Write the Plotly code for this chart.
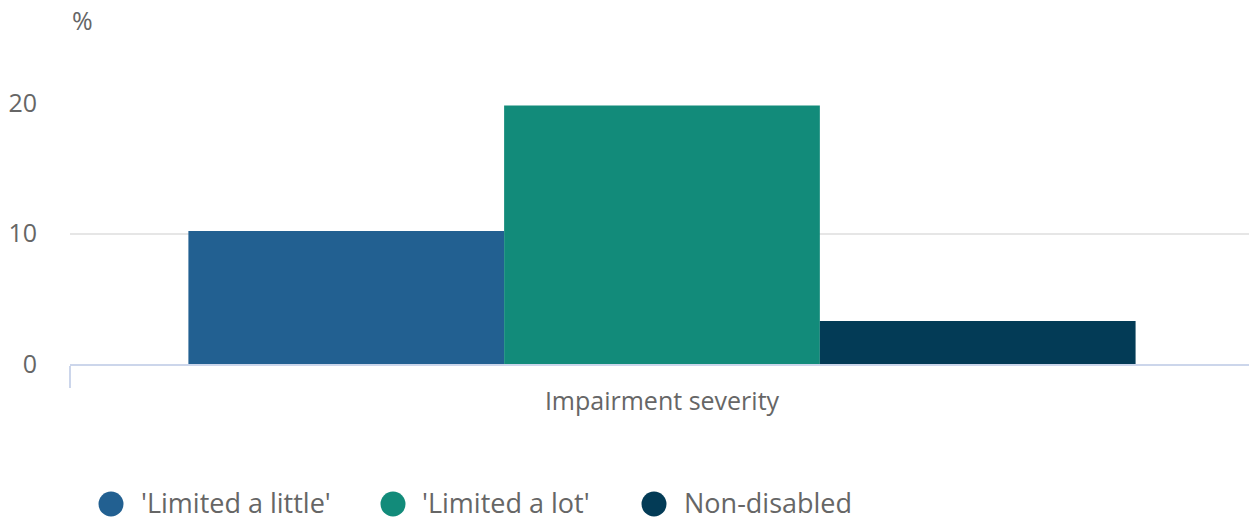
import plotly.graph_objects as go

categories = ["Impairment severity"]
series_names = ["'Limited a little'", "'Limited a lot'", "Non-disabled"]
series_values = [[10.2], [19.8], [3.3]]
series_colors = ["#226091", "#128B7A", "#033B56"]
y_ticks = [0, 10, 20]
y_unit = "%"

W, H = 1249, 522
L, R, T, B = 70, 0, 103, 158
pw = W - L - R
ph = H - T - B

def px_x(px):
    return (px - L) / pw

def px_y(py):
    return (H - B - py) / ph

FONT = "Open Sans"
GREY = "#666666"
FS = 25
LFS = 27

fig = go.Figure()
for name, vals, col in zip(series_names, series_values, series_colors):
    fig.add_trace(go.Bar(x=categories, y=vals, name=name, marker_color=col,
                         marker_line_width=0, showlegend=False))

shapes = []
annotations = []
legend_circle_x = [111, 393, 654]
legend_text_x = [142, 423, 685]
ly = 504
r = 12.5
for i, name in enumerate(series_names):
    cx = legend_circle_x[i]
    shapes.append(dict(type="circle", xref="paper", yref="paper",
                       x0=px_x(cx - r), x1=px_x(cx + r),
                       y0=px_y(ly + r), y1=px_y(ly - r),
                       fillcolor=series_colors[i], line_width=0))
    annotations.append(dict(text=name, xref="paper", yref="paper",
                            x=px_x(legend_text_x[i] - 2), y=px_y(H),
                            xanchor="left", yanchor="bottom", showarrow=False,
                            borderpad=0,
                            font=dict(family=FONT, size=LFS, color=GREY)))

annotations.append(dict(text=y_unit, xref="paper", yref="paper",
                        x=px_x(82), y=px_y(20), xanchor="center", yanchor="middle",
                        showarrow=False, font=dict(family=FONT, size=FS, color=GREY)))

fig.update_layout(
    width=W, height=H,
    margin=dict(l=L, r=R, t=T, b=B, pad=0),
    paper_bgcolor="white", plot_bgcolor="white",
    barmode="group", bargap=0.2, bargroupgap=0,
    font=dict(family=FONT, size=FS, color=GREY),
    shapes=shapes, annotations=annotations,
    xaxis=dict(showline=True, linecolor="#ccd6eb", linewidth=2,
               range=[-0.5, 0.4958],
               ticks="outside", tickson="boundaries", ticklen=22, tickcolor="#ccd6eb",
               tickwidth=2, showgrid=False,
               tickfont=dict(family=FONT, size=FS, color=GREY),
               ticklabelstandoff=14),
    yaxis=dict(range=[0, 20], tickvals=y_ticks, showgrid=True, gridcolor="#e6e6e6",
               gridwidth=2, zeroline=False, showline=False, ticks="",
               tickfont=dict(family=FONT, size=FS, color=GREY),
               ticklabelstandoff=32),
)

fig.write_html("out.html", config={"displayModeBar": False},
               post_script="document.body.style.margin='0';document.body.style.padding='0';")
